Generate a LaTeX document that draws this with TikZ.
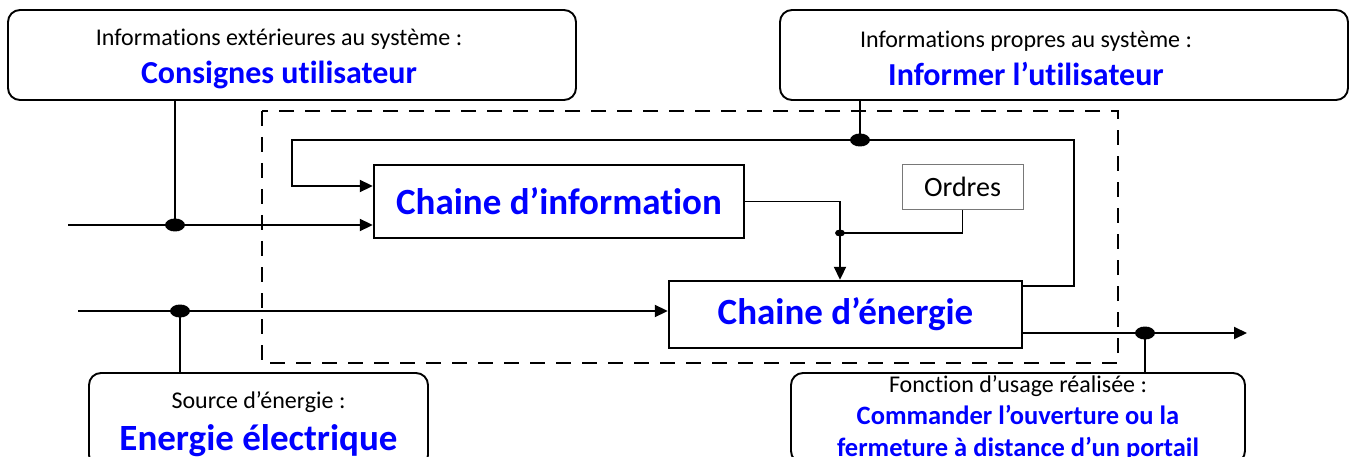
\documentclass[tikz,border=0pt]{standalone}
\usepackage{fontspec}
\setmainfont{Carlito}[Ligatures={TeX,NoCommon}]
\usetikzlibrary{arrows.meta}
\definecolor{cBlue} {RGB}{0,0,255}
\definecolor{cLine} {RGB}{0,0,0}
\definecolor{cOrd}  {RGB}{120,120,120}

\begin{document}
\begin{tikzpicture}[x=1pt,y=-1pt]

% ---------------------------------------------------------------- styles
\tikzset{
  info/.style  = {rounded corners=12pt, draw=cLine, line width=1.9pt,
                  fill=white, align=center, inner sep=0pt,
                  minimum height=90pt},
  chain/.style = {draw=cLine, line width=2.4pt, fill=white, inner sep=0pt,
                  text=cBlue, font=\fontsize{37}{44}\selectfont\bfseries},
  ordre/.style = {draw=cOrd, line width=0.8pt, fill=white, inner sep=0pt,
                  minimum width=121pt, minimum height=45pt,
                  font=\fontsize{28}{33}\selectfont},
  line/.style  = {draw=cLine, line width=1.9pt},
  arr/.style   = {line, -{Triangle[length=13pt,width=12pt]}},
  frame/.style = {draw=cLine, line width=1.8pt, dash pattern=on 15pt off 11pt},
}

\useasboundingbox (0,0) rectangle (1352,457);
\clip (0,0) rectangle (1352,457);

% ================================================================ system frame
\draw[frame] (262,111) rectangle (1118,363);

% ================================================================ free ends, junctions
\coordinate (inI) at (68,225);
\coordinate (jA)  at (175,225);
\coordinate (fb1) at (1074,140);
\coordinate (fb2) at (292,140);
\coordinate (jB)  at (860,140);
\coordinate (jO)  at (840,233);
\coordinate (inE) at (78,311);
\coordinate (jE)  at (180,311);
\coordinate (out) at (1247,333);
\coordinate (jD)  at (1145,333);

% ================================================================ the two chains
\node[chain, minimum width=370pt, minimum height=73pt] (ci) at (559,201.5)
  {Chaine d’information};
\node[chain, minimum width=353pt, minimum height=67pt] (ce) at (845.5,314.5)
  {Chaine d’énergie};
\node[ordre] (ord) at (962.5,187) {Ordres};

% ================================================================ outside boxes
\node[info, minimum width=568pt, font=\fontsize{24}{38}\selectfont] (ca) at (292,55)
  {\rule{0pt}{24pt}Informations extérieures au système :\hspace*{26pt}\\
   {\fontsize{32}{38}\selectfont\bfseries\color{cBlue}Consignes utilisateur}\hspace*{26pt}};
\node[info, minimum width=568pt, font=\fontsize{24}{38}\selectfont] (cb) at (1064,55)
  {\rule{0pt}{24pt}Informations propres au système :\hspace*{76pt}\\
   {\fontsize{32}{38}\selectfont\bfseries\color{cBlue}Informer l’utilisateur}\hspace*{76pt}};
\node[info, minimum width=339pt, minimum height=94pt,
      font=\fontsize{24}{42}\selectfont] (cc) at (258.5,420)
  {\rule{0pt}{26pt}Source d’énergie :\\
   {\fontsize{37}{42}\selectfont\bfseries\color{cBlue}Energie électrique}};
\node[info, minimum width=454pt, minimum height=90pt,
      font=\fontsize{24}{32}\selectfont] (cd) at (1018,418)
  {Fonction d’usage réalisée :\\
   {\fontsize{26.5}{32}\selectfont\bfseries\color{cBlue}Commander l’ouverture ou la}\\
   {\fontsize{26.5}{32}\selectfont\bfseries\color{cBlue}fermeture à distance d’un portail}};

% ------------------------------------------------- information side
\draw[arr]  (inI) -- (inI -| ci.west);
\draw[line] (ca.south -| jA) -- (jA);
\fill (jA) ellipse [x radius=10pt, y radius=6.5pt];
% feedback from the energy chain
\draw[arr]  ([yshift=-6pt]ce.north east) -| (fb1) -- (fb2)
            |- ([yshift=15.5pt]ci.west);
\draw[line] (cb.south -| jB) -- (jB);
\fill (jB) ellipse [x radius=10pt, y radius=6.5pt];
% orders to the energy chain
\draw[arr]  (ci.east) -| (jO) -- (jO |- ce.north);
\draw[line] (jO) -| (ord.south);
\fill (jO) ellipse [x radius=5pt, y radius=3.5pt];

% ------------------------------------------------- energy side
\draw[arr]  (inE) -- (inE -| ce.west);
\draw[line] (jE) -- (jE |- cc.north);
\fill (jE) ellipse [x radius=10pt, y radius=6.5pt];
\draw[arr]  ([yshift=-18.5pt]ce.east) -- (out);
\draw[line] (jD) -- (jD |- cd.north);
\fill (jD) ellipse [x radius=10pt, y radius=6.5pt];

\end{tikzpicture}
\end{document}
